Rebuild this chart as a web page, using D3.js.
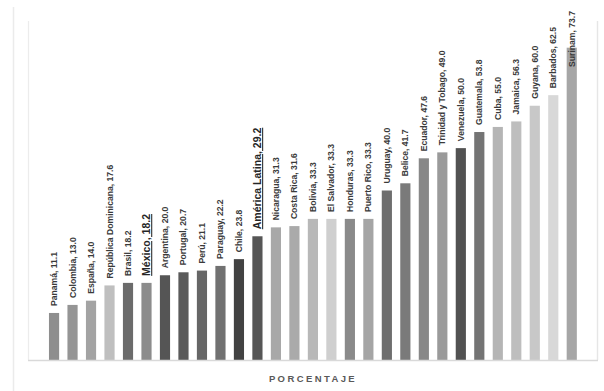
<!DOCTYPE html>
<html>
<head>
<meta charset="utf-8">
<script src="https://cdn.jsdelivr.net/npm/d3@7"></script>
<style>
  html, body { margin: 0; padding: 0; background: #fff; }
  svg { display: block; }
</style>
</head>
<body>
<svg id="chart" width="604" height="391"></svg>
<script>
// Countries, sorted by value
const countries = [
  "Panamá", "Colombia", "España", "República Dominicana", "Brasil", "México",
  "Argentina", "Portugal", "Perú", "Paraguay", "Chile", "América Latina",
  "Nicaragua", "Costa Rica", "Bolivia", "El Salvador", "Honduras", "Puerto Rico",
  "Uruguay", "Belice", "Ecuador", "Trinidad y Tobago", "Venezuela", "Guatemala",
  "Cuba", "Jamaica", "Guyana", "Barbados", "Surinam"
];
const values = [
  11.1, 13.0, 14.0, 17.6, 18.2, 18.2,
  20.0, 20.7, 21.1, 22.2, 23.8, 29.2,
  31.3, 31.6, 33.3, 33.3, 33.3, 33.3,
  40.0, 41.7, 47.6, 49.0, 50.0, 53.8,
  55.0, 56.3, 60.0, 62.5, 73.7
];
const barColors = [
  "#8e8e8e", "#959595", "#a3a3a3", "#bfbfbf", "#6b6b6b", "#8c8c8c",
  "#555555", "#5a5a5a", "#666666", "#717171", "#424242", "#565656",
  "#a8a8a8", "#aaaaaa", "#b8b8b8", "#cfcfcf", "#8a8a8a", "#a5a5a5",
  "#6e6e6e", "#7a7a7a", "#888888", "#9a9a9a", "#525252", "#747474",
  "#b5b5b5", "#bebebe", "#c8c8c8", "#d8d8d8", "#a6a6a6"
];
// Highlighted entries get a bold, underlined label
const highlighted = ["México", "América Latina"];
const axisTitle = "PORCENTAJE";

const data = countries.map((c, i) => ({ name: c, value: values[i], color: barColors[i] }));

const svg = d3.select("#chart");

// Plot area
const plot = { left: 28, top: 21, right: 598, bottom: 360 };

// Chart frame (outer) and plot-area edges
svg.append("line").attr("x1", 13.5).attr("x2", 13.5).attr("y1", 7).attr("y2", 391)
  .attr("stroke", "#ebebeb").attr("stroke-width", 1.5);
svg.append("line").attr("x1", plot.left + 0.5).attr("x2", plot.left + 0.5)
  .attr("y1", plot.top).attr("y2", plot.bottom)
  .attr("stroke", "#ececec").attr("stroke-width", 1.2);
svg.append("line").attr("x1", plot.right - 0.5).attr("x2", plot.right - 0.5)
  .attr("y1", plot.top).attr("y2", plot.bottom)
  .attr("stroke", "#e6e6e6").attr("stroke-width", 1.4);

const x = d3.scaleBand()
  .domain(countries)
  .range([44.8, 581])
  .paddingInner(0.45)
  .paddingOuter(0.225);

const y = d3.scaleLinear()
  .domain([0, 80])
  .range([plot.bottom, plot.top]);

// Bars
svg.append("g")
  .selectAll("rect")
  .data(data)
  .join("rect")
  .attr("x", d => x(d.name))
  .attr("width", x.bandwidth())
  .attr("y", d => y(d.value))
  .attr("height", d => y(0) - y(d.value))
  .attr("fill", d => d.color);

// Category axis line (no ticks, no labels)
const xAxis = d3.axisBottom(x).tickSize(0).tickFormat("");
const gx = svg.append("g")
  .attr("transform", `translate(0,${plot.bottom})`)
  .call(xAxis);
gx.select(".domain")
  .attr("d", `M${plot.left},0.5H${plot.right}`)
  .attr("stroke", "#d9d9d9")
  .attr("stroke-width", 1.5);

// Value labels, rotated, above each bar; a label that would run past the
// top of the chart is pulled down over its bar instead.
const fmt = d3.format(".1f");
const topLimit = 11;
const labels = svg.append("g")
  .selectAll("text")
  .data(data)
  .join("text")
  .attr("dy", "0.35em")
  .attr("text-anchor", "start")
  .style("font-family", d => highlighted.includes(d.name)
    ? "'Liberation Sans', Arial, sans-serif"
    : "'Liberation Sans Narrow', 'Arial Narrow', sans-serif")
  .style("font-size", d => highlighted.includes(d.name) ? "10.5px" : "8.6px")
  .style("font-weight", "bold")
  .style("text-decoration", d => highlighted.includes(d.name) ? "underline" : "none")
  .attr("fill", d => highlighted.includes(d.name) ? "#262626" : "#3a3a3a")
  .text(d => `${d.name}, ${fmt(d.value)}`);

labels.attr("transform", function (d) {
  const cx = x(d.name) + x.bandwidth() / 2;
  const len = this.getComputedTextLength();
  let ty = y(d.value) - 7;
  if (ty - len < topLimit) ty = topLimit + len;
  return `translate(${cx},${ty}) rotate(-90)`;
});

// Axis title
svg.append("text")
  .attr("x", (plot.left + plot.right) / 2)
  .attr("y", 382)
  .attr("text-anchor", "middle")
  .style("font-family", "'Liberation Sans', Arial, sans-serif")
  .style("font-size", "9.5px")
  .style("font-weight", "bold")
  .style("letter-spacing", "2.4px")
  .attr("fill", "#595959")
  .text(axisTitle);
</script>
</body>
</html>
